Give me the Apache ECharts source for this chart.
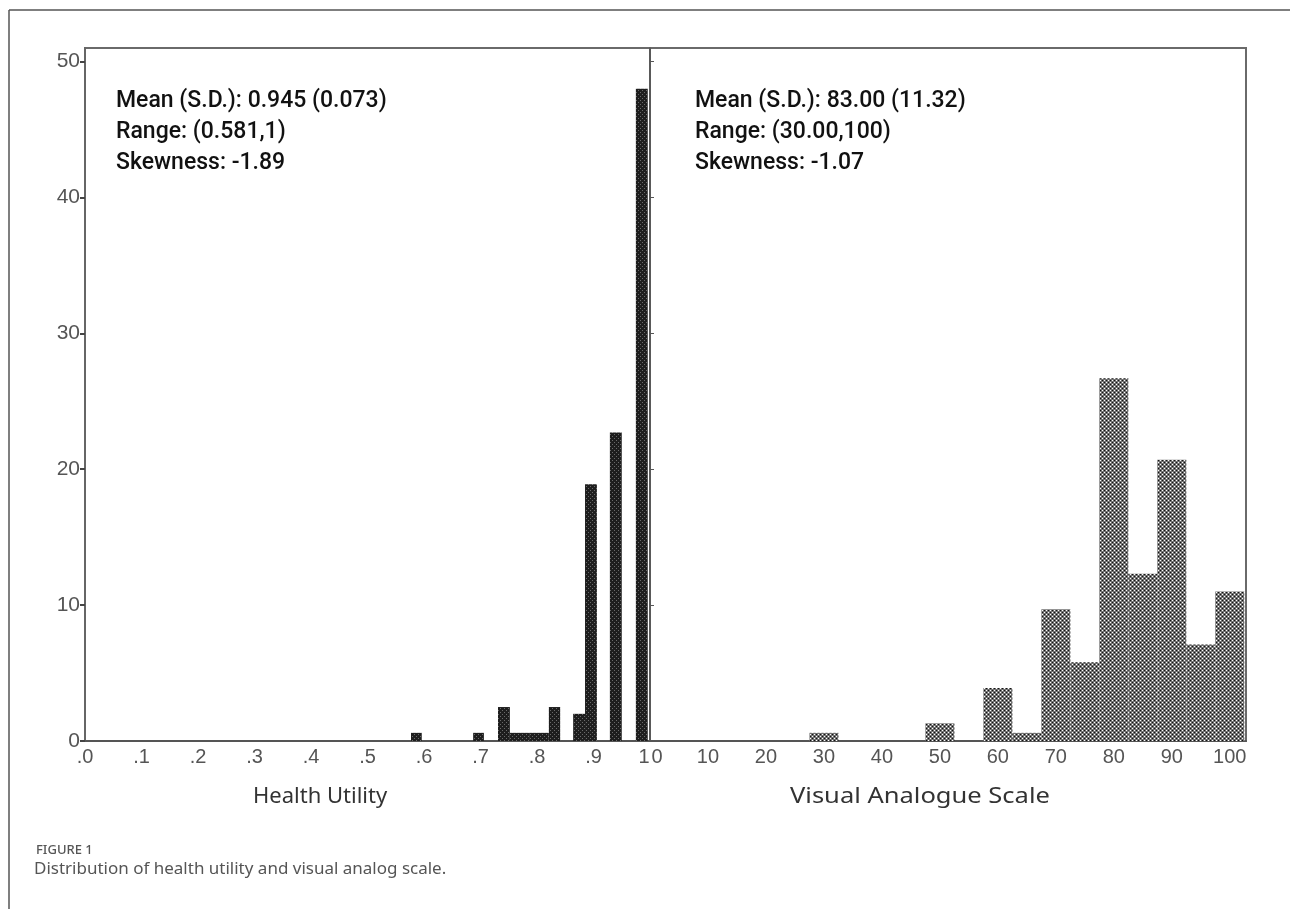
<!DOCTYPE html>
<html>
<head>
<meta charset="utf-8">
<script src="https://cdn.jsdelivr.net/npm/echarts@6/dist/echarts.min.js"></script>
<style>
  html, body { margin: 0; padding: 0; background: #fff; }
  #chart { width: 1290px; height: 909px; }
</style>
</head>
<body>
<div id="chart"></div>
<script>
  // Health utility histogram: bin start, bin end, percent
  var huStart = [0.577, 0.687, 0.731, 0.752, 0.786, 0.821, 0.864, 0.885, 0.929, 0.975]
  var huEnd = [0.596, 0.706, 0.752, 0.786, 0.821, 0.841, 0.885, 0.906, 0.950, 0.996]
  var huCount = [0.6, 0.6, 2.5, 0.6, 0.6, 2.5, 2.0, 18.9, 22.7, 48.0]

  // Visual analogue scale histogram: bin centres (width 5), percent
  var vasCenter = [30, 50, 60, 65, 70, 75, 80, 85, 90, 95, 100]
  var vasCount = [0.6, 1.3, 3.9, 0.6, 9.7, 5.8, 26.7, 12.3, 20.7, 7.1, 11.0]
  var vasWidth = 5

  var yTicks = [0, 10, 20, 30, 40, 50]
  var huTicks = [0, 0.1, 0.2, 0.3, 0.4, 0.5, 0.6, 0.7, 0.8, 0.9, 1]
  var huTickLabels = ['.0', '.1', '.2', '.3', '.4', '.5', '.6', '.7', '.8', '.9', '{l|1}']
  var vasTicks = [0, 10, 20, 30, 40, 50, 60, 70, 80, 90, 100]

  var huText = ['Mean (S.D.): 0.945 (0.073)', 'Range: (0.581,1)', 'Skewness: -1.89']
  var vasText = ['Mean (S.D.): 83.00 (11.32)', 'Range: (30.00,100)', 'Skewness: -1.07']

  // 小方格纹理，模拟原图的网点填充
  function makePattern (bg, light, dark) {
    var c = document.createElement('canvas')
    c.width = 4
    c.height = 4
    var ctx = c.getContext('2d')
    ctx.fillStyle = bg
    ctx.fillRect(0, 0, 4, 4)
    ctx.fillStyle = light
    ctx.fillRect(0, 0, 1, 1)
    ctx.fillRect(2, 2, 1, 1)
    if (dark) {
      ctx.fillStyle = dark
      ctx.fillRect(2, 0, 1, 1)
      ctx.fillRect(0, 2, 1, 1)
    }
    return c
  }
  var darkFill = { image: makePattern('#1e1e1e', '#6a6a6a'), repeat: 'repeat' }
  var grayFill = { image: makePattern('#727272', '#ffffff', '#111111'), repeat: 'repeat' }

  var huData = huStart.map(function (s, i) { return [s, huEnd[i], huCount[i]] })
  var vasData = vasCenter.map(function (c, i) { return [c - vasWidth / 2, c + vasWidth / 2, vasCount[i]] })

  function barRenderer (fill) {
    return function (params, api) {
      var p0 = api.coord([api.value(0), api.value(2)])
      var p1 = api.coord([api.value(1), 0])
      return {
        type: 'rect',
        shape: { x: p0[0], y: p0[1], width: p1[0] - p0[0], height: p1[1] - p0[1] },
        style: { fill: fill, stroke: null }
      }
    }
  }

  function statLines (x, lines) {
    return lines.map(function (t, i) {
      return {
        type: 'text', left: x, top: 90 + i * 31,
        style: { text: t, font: '500 23px Roboto', fill: '#111' }
      }
    })
  }

  var axisLabelStyle = { color: '#555', fontSize: 20, fontFamily: 'Liberation Sans' }

  var myChart = echarts.init(document.getElementById('chart'))
  myChart.setOption({
    animation: false,
    grid: [
      { left: 85, top: 48, width: 565, height: 693, show: true, borderColor: '#6a6a6a', borderWidth: 2 },
      { left: 650, top: 48, width: 596, height: 693, show: true, borderColor: '#6a6a6a', borderWidth: 2 }
    ],
    xAxis: [
      {
        gridIndex: 0, type: 'value', min: 0, max: 1,
        splitLine: { show: false },
        axisLine: { lineStyle: { color: '#555', width: 2 } },
        axisTick: { show: false },
        axisLabel: Object.assign({
          customValues: huTicks,
          margin: 6,
          formatter: function (v) { return huTickLabels[Math.round(v * 10)] },
          rich: { l: { padding: [0, 12, 0, 0], fontSize: 20, color: '#555', fontFamily: 'Liberation Sans' } }
        }, axisLabelStyle)
      },
      {
        gridIndex: 1, type: 'value', min: 0, max: 102.8,
        splitLine: { show: false },
        axisLine: { lineStyle: { color: '#555', width: 2 } },
        axisTick: { show: false },
        axisLabel: Object.assign({
          customValues: vasTicks,
          margin: 6,
          formatter: function (v) { return v === 0 ? '{r|0}' : String(v) },
          rich: { r: { padding: [0, 0, 0, 14], fontSize: 20, color: '#555', fontFamily: 'Liberation Sans' } }
        }, axisLabelStyle)
      }
    ],
    yAxis: [
      {
        gridIndex: 0, type: 'value', min: 0, max: 51,
        splitLine: { show: false },
        axisLine: { lineStyle: { color: '#666', width: 2 } },
        axisTick: { customValues: yTicks, length: 5, lineStyle: { color: '#444', width: 2 } },
        axisLabel: Object.assign({ customValues: yTicks, margin: 5 }, axisLabelStyle, { fontSize: 21 })
      },
      {
        gridIndex: 1, type: 'value', min: 0, max: 51,
        splitLine: { show: false },
        axisLine: { lineStyle: { color: '#555', width: 1.5 } },
        axisTick: { customValues: yTicks, inside: true, length: 4, lineStyle: { color: '#555' } },
        axisLabel: { show: false }
      }
    ],
    series: [
      {
        type: 'custom', xAxisIndex: 0, yAxisIndex: 0,
        renderItem: barRenderer(darkFill),
        encode: { x: [0, 1], y: 2 },
        data: huData
      },
      {
        type: 'custom', xAxisIndex: 1, yAxisIndex: 1,
        renderItem: barRenderer(grayFill),
        encode: { x: [0, 1], y: 2 },
        data: vasData
      }
    ],
    graphic: [
      // 外框
      { type: 'line', shape: { x1: 9, y1: 10, x2: 1290, y2: 10 }, style: { stroke: '#555', lineWidth: 1.5 } },
      { type: 'line', shape: { x1: 9, y1: 10, x2: 9, y2: 909 }, style: { stroke: '#555', lineWidth: 1.5 } },
      { type: 'text', left: 253, top: 786, style: { text: 'Health Utility', font: '22px "Noto Sans"', fill: '#333' } },
      { type: 'text', x: 790, y: 786, scaleX: 1.16, style: { text: 'Visual Analogue Scale', font: '22px "Noto Sans"', fill: '#333' } },
      { type: 'text', left: 36, top: 844, style: { text: 'FIGURE 1', font: '500 13px "Noto Sans"', fill: '#555' } },
      { type: 'text', left: 34, top: 861, style: { text: 'Distribution of health utility and visual analog scale.', font: '17px "Noto Sans"', fill: '#555' } }
    ].concat(statLines(116, huText), statLines(695, vasText))
  })
</script>
</body>
</html>
